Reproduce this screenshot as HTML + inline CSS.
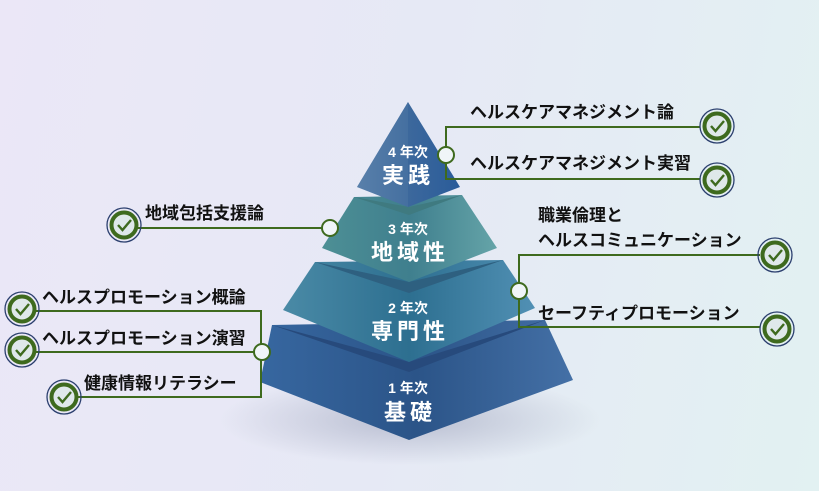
<!DOCTYPE html>
<html><head><meta charset="utf-8"><style>
html,body{margin:0;padding:0;width:819px;height:491px;overflow:hidden}
body{background:linear-gradient(100deg,#ebe7f7 0%,#e6e9f5 50%,#e2f1f2 100%)}
svg{display:block}
.t{font-family:"Liberation Sans","Noto Sans CJK JP",sans-serif;font-weight:bold;font-size:17px;fill:#111}
.w{font-family:"Liberation Sans","Noto Sans CJK JP",sans-serif;font-weight:bold;fill:#fff;text-anchor:middle}
</style></head><body>
<svg width="819" height="491" viewBox="0 0 819 491" xmlns="http://www.w3.org/2000/svg">
<defs>
<radialGradient id="sh" cx="0.5" cy="0.5" r="0.5"><stop offset="0" stop-color="#9aa0b8" stop-opacity="0.6"/><stop offset="1" stop-color="#9aa0b8" stop-opacity="0"/></radialGradient>
<linearGradient id="g1" x1="0" x2="1"><stop offset="0" stop-color="#3767a0"/><stop offset="0.5" stop-color="#2b5488"/><stop offset="1" stop-color="#4470a6"/></linearGradient>
<linearGradient id="g2" x1="0" x2="1"><stop offset="0" stop-color="#4a8aa6"/><stop offset="0.5" stop-color="#2d6f90"/><stop offset="1" stop-color="#5190b4"/></linearGradient>
<linearGradient id="g3" x1="0" x2="1"><stop offset="0" stop-color="#4d8f95"/><stop offset="0.5" stop-color="#3f7f8e"/><stop offset="1" stop-color="#65a4a8"/></linearGradient>
<linearGradient id="g4" x1="0" x2="1"><stop offset="0" stop-color="#6d90b4"/><stop offset="0.5" stop-color="#3c689c"/><stop offset="1" stop-color="#2a5c9a"/></linearGradient>
<g id="ck"><circle r="17" fill="none" stroke="#2b3f6e" stroke-width="1.3"/><circle r="12.5" fill="#dfe8ea" stroke="#3e6a1e" stroke-width="4"/><path d="M-6,0 L-1.5,5 L7,-5" fill="none" stroke="#3e6a1e" stroke-width="2.4"/></g>
</defs>
<ellipse cx="410" cy="420" rx="190" ry="45" fill="url(#sh)"/>
<polygon points="272,325 545,320 573,380 409,440 260,382" fill="url(#g1)"/>
<polygon points="272,325 409,372 545,320 409,362 " fill="#274a7c"/>
<polygon points="315,262 503,260 535,308 409,362 283,310" fill="url(#g2)"/>
<polygon points="315,262 409,293 503,260 409,282" fill="#2e6080"/>
<polygon points="354,197 462,195 497,248 409,282 322,248" fill="url(#g3)"/>
<polygon points="354,197 409,215 462,195 409,207" fill="#3f7a80"/>
<polygon points="408,102 460,187 408,207 357,187" fill="url(#g4)"/>
<polygon points="408,102 408,207 357,187" fill="#4b74a4" opacity="0.6"/>
<text class="w" x="408" y="157" font-size="14">4 年次</text>
<text class="w" x="408" y="183" font-size="22" letter-spacing="4">実践</text>
<text class="w" x="408" y="234" font-size="14">3 年次</text>
<text class="w" x="410" y="260" font-size="22" letter-spacing="4">地域性</text>
<text class="w" x="408" y="313" font-size="14">2 年次</text>
<text class="w" x="410" y="339" font-size="22" letter-spacing="4">専門性</text>
<text class="w" x="408" y="393" font-size="14">1 年次</text>
<text class="w" x="410" y="420" font-size="22" letter-spacing="4">基礎</text>
<g fill="none" stroke="#3e6a1e" stroke-width="2">
<path d="M700,127 H446 V179 H700"/>
<path d="M124,228 H323"/>
<path d="M760,255 H519 V327 H760"/>
<path d="M22,311 H261 V397 H64"/>
<path d="M22,352 H254"/>
</g>
<g fill="#f0f5f8" stroke="#3e6a1e" stroke-width="2">
<circle cx="446" cy="155" r="8"/>
<circle cx="330" cy="228" r="8"/>
<circle cx="519" cy="291" r="8"/>
<circle cx="262" cy="352" r="8"/>
</g>
<use href="#ck" x="717" y="126"/><use href="#ck" x="717" y="180"/>
<use href="#ck" x="775" y="255"/><use href="#ck" x="777" y="329"/>
<use href="#ck" x="124" y="225"/><use href="#ck" x="22" y="309"/>
<use href="#ck" x="22" y="350"/><use href="#ck" x="64" y="397"/>
<text class="t" x="470" y="118">ヘルスケアマネジメント論</text>
<text class="t" x="470" y="169">ヘルスケアマネジメント実習</text>
<text class="t" x="145" y="219">地域包括支援論</text>
<text class="t" x="538" y="221">職業倫理と</text>
<text class="t" x="538" y="246">ヘルスコミュニケーション</text>
<text class="t" x="538" y="319">セーフティプロモーション</text>
<text class="t" x="42" y="303">ヘルスプロモーション概論</text>
<text class="t" x="42" y="344">ヘルスプロモーション演習</text>
<text class="t" x="84" y="389">健康情報リテラシー</text>
</svg>
</body></html>
